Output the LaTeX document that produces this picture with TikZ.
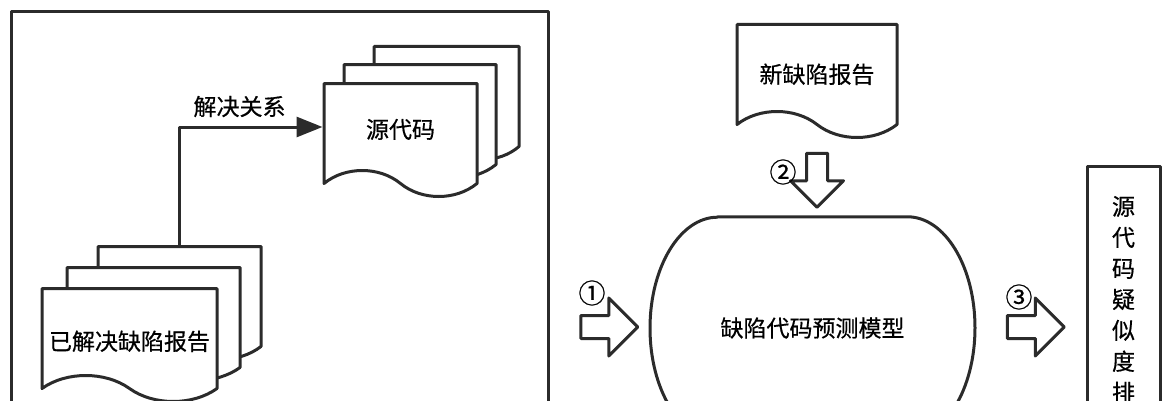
\documentclass[tikz,border=0pt]{standalone}
\usepackage{fontspec}
\newfontfamily\cjk{Noto Sans CJK SC}[FakeBold=0.6]
\usetikzlibrary{shapes.symbols,shapes.arrows,arrows.meta,positioning,calc}
\definecolor{ink}{HTML}{2B2B2B}
\tikzset{
  doc/.style={tape, tape bend top=none, tape bend bottom=out and in,
    tape bend height=26pt, draw=ink, line width=3pt, fill=white,
    inner sep=0pt, minimum height=113pt, anchor=north},
  hollow/.style={single arrow, draw=ink, line width=3pt, fill=white,
    text height=10pt, text depth=10pt, minimum width=0pt, minimum height=57pt,
    single arrow head extend=17.5pt, inner sep=0pt},
  num/.style={font=\cjk\fontsize{27}{27}\selectfont, inner sep=0pt},
  txt/.style={font=\cjk\fontsize{23}{28}\selectfont},
}
\begin{document}
\begin{tikzpicture}[x=1pt,y=1pt,line join=round,txt]
\useasboundingbox (0,0) rectangle (1170,400);
% left frame
\node[draw=ink,line width=2.6pt,minimum width=537pt,minimum height=430pt,
  anchor=north west,inner sep=0pt] (frame) at (10,390) {};
% resolved bug reports
\node[doc,minimum width=163pt] (rep3) at (179.5,155) {};
\node[doc,minimum width=173pt] (rep2) at (153.5,134) {};
\node[doc,minimum width=175pt,text height=38pt] (rep1) at (129.5,113) {已解决缺陷报告};
% source code files
\node[doc,minimum width=145pt] (src3) at (446.5,355) {};
\node[doc,minimum width=152pt] (src2) at (420,337) {};
\node[doc,minimum width=153pt,text height=24pt] (src1) at (400.5,318) {源代码};
\draw[draw=ink,line width=3pt,-{Triangle[length=26pt,width=20pt]}]
  (rep3.north) |- node[pos=0.71,above=5pt]{解决关系} (src1.west);
% new bug report
\node[doc,minimum width=160pt,text height=32pt] (newrep) at (817,377) {新缺陷报告};
% prediction model
\node[minimum width=325pt,minimum height=222pt,inner sep=0pt] (model) at (812.5,72) {缺陷代码预测模型};
\draw[draw=ink,line width=3pt]
  ([xshift=-95pt]model.north) -- ([xshift=95pt]model.north)
  arc[start angle=90,end angle=-90,x radius=67.5pt,y radius=111pt]
  -- ([xshift=-95pt]model.south)
  arc[start angle=270,end angle=90,x radius=67.5pt,y radius=111pt] -- cycle;
% result list
\node[draw=ink,line width=3pt,anchor=north,minimum width=73pt,text width=30pt,
  align=center,inner ysep=29.5pt,text depth=200pt] (result) at (1123.5,235)
  {源\\[3pt]代\\[3pt]码\\[3pt]疑\\[3pt]似\\[3pt]度\\[3pt]排};
% steps
\node[hollow] (a1) at (603.5,73) {};
\node[hollow,rotate=-90,minimum height=54pt,text height=9pt,text depth=9pt,
  single arrow head extend=16pt] (a2) at (817,225) {};
\node[hollow] (a3) at (1030,73) {};
\node[num] (n1) at (592,107) {①};
\node[num] (n2) at (783,228) {②};
\node[num] (n3) at (1019,103) {③};
\end{tikzpicture}
\end{document}
